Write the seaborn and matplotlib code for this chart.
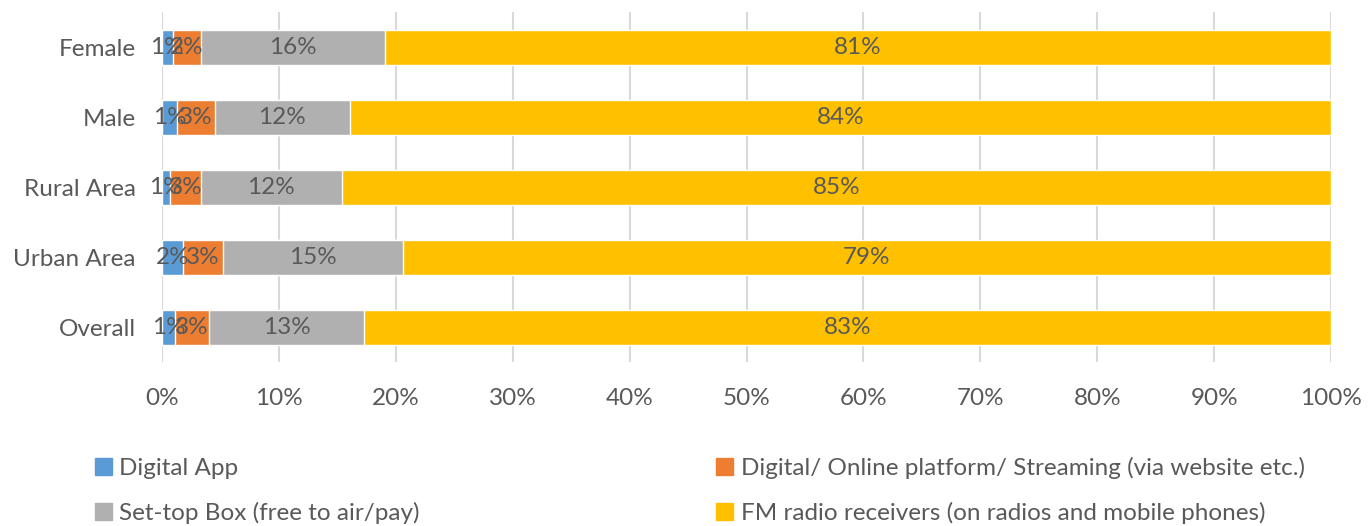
import matplotlib
matplotlib.use("Agg")
import matplotlib.pyplot as plt
import seaborn as sns
import pandas as pd
import numpy as np
from matplotlib.patches import Patch

groups = ["Female", "Male", "Rural Area", "Urban Area", "Overall"]
digital_app = [0.9, 1.3, 0.7, 1.8, 1.1]
online = [2.4, 3.2, 2.6, 3.4, 2.9]
set_top = [15.8, 11.6, 12.1, 15.4, 13.3]
fm_radio = [80.9, 83.9, 84.6, 79.4, 82.7]

series = ["Digital App", "Digital/ Online platform/ Streaming (via website etc.)",
          "Set-top Box (free to air/pay)", "FM radio receivers (on radios and mobile phones)"]
colors = ["#5B9BD5", "#ED7D31", "#B0B0B0", "#FFC000"]
text_col = "#595959"
fs = 17.5

sns.set_theme(style="white")
plt.rcParams['font.family'] = ['Lato', 'DejaVu Sans']

df = pd.DataFrame({"group": groups, series[0]: digital_app, series[1]: online,
                   series[2]: set_top, series[3]: fm_radio})
vals = df[series].to_numpy()
cum = np.cumsum(vals, axis=1)

fig = plt.figure(figsize=(13.68, 5.26), dpi=100)
ax = fig.add_axes([162 / 1368, 1 - 362 / 526, (1331 - 162) / 1368, 350 / 526])

# stacked bars: draw cumulative totals, largest first
for i in range(len(series) - 1, -1, -1):
    sns.barplot(x=cum[:, i], y=df["group"], order=groups, color=colors[i],
                width=0.5, ax=ax, saturation=1, zorder=2)

for r in range(len(groups)):
    left = 0
    for i in range(len(series)):
        ax.text(left + vals[r, i] / 2, r, f"{vals[r, i]:.0f}%", ha="center", va="center",
                fontsize=fs, color=text_col, zorder=3)
        left = cum[r, i]

ax.set_xlim(0, 100)
ax.set_ylim(4.5, -0.5)
ax.set_xticks(range(0, 101, 10))
ax.set_xticklabels([f"{t}%" for t in range(0, 101, 10)])
ax.xaxis.grid(True, color="#D9D9D9", linewidth=1.5, zorder=0)
ax.set_axisbelow(True)
ax.set_xlabel("")
ax.set_ylabel("")
for s in ax.spines.values():
    s.set_visible(False)
ax.tick_params(axis="both", colors=text_col, labelsize=fs, length=0)
ax.tick_params(axis="x", pad=19)
ax.tick_params(axis="y", pad=19)

handles = [Patch(color=c) for c in colors]
order = [0, 2, 1, 3]
fig.legend([handles[i] for i in order], [series[i] for i in order], ncol=2,
           loc="upper left", bbox_to_anchor=(73 / 1368, 1 - 435 / 526), frameon=False,
           fontsize=fs, labelcolor=text_col, handlelength=0.7, handleheight=0.7,
           handletextpad=0.3, columnspacing=12.2, labelspacing=0.95)

fig.savefig("out.png", dpi=100)
